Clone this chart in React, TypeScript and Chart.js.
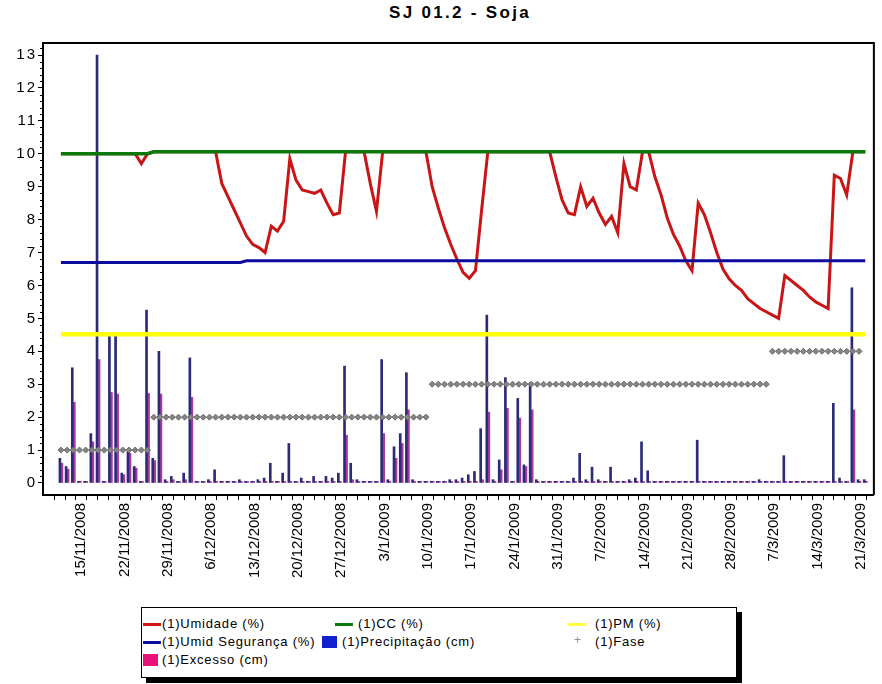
import React, { useEffect, useRef } from "react";
import { Chart, registerables } from "chart.js";

Chart.register(...registerables);

// Day numbering: day 0 = 15/11/2008. First sample is 12/11/2008.
const FIRST_DAY = -3;

// (1)Umidade (%) – one value per day
const umidade = [
  10, 10, 10, 10, 10, 10, 10, 10, 10, 10, 10, 10, 10, // -3..9
  9.7, 10, // 10..11
  10.06, 10.06, 10.06, 10.06, 10.06, 10.06, 10.06, 10.06, 10.06, 10.06, 10.06, // 12..22
  9.1, 8.7, 8.3, 7.9, 7.5, 7.25, 7.15, 7.0, 7.8, 7.65, 7.95, 9.85, 9.2, 8.9, 8.85, 8.8, 8.9, 8.5, 8.15, 8.2, // 23..42
  10.06, 10.06, 10.06, 10.06, // 43..46
  9.1, 8.25, // 47..48
  10.06, 10.06, 10.06, 10.06, 10.06, 10.06, 10.06, 10.06, // 49..56
  9.0, 8.35, 7.75, 7.25, 6.8, 6.4, 6.22, 6.45, 8.3, // 57..65
  10.06, 10.06, 10.06, 10.06, 10.06, 10.06, 10.06, 10.06, 10.06, 10.06, 10.06, // 66..76
  9.3, 8.6, 8.2, 8.15, 9.0, 8.4, 8.65, 8.2, 7.85, 8.1, 7.6, 9.7, 9.0, 8.9, // 77..90
  10.06, 10.06, // 91..92
  9.3, 8.75, 8.05, 7.55, 7.2, 6.75, 6.45, 8.5, 8.15, 7.6, 7.0, 6.5, 6.2, 6.0, 5.85, 5.6, // 93..108
  5.45, 5.3, 5.2, 5.1, 5.0, 6.3, 6.15, 6.0, 5.85, 5.65, 5.5, 5.4, 5.3, 9.35, 9.25, 8.75, // 109..124
  10.06, 10.06, 10.06, // 125..127
];

// (1)Precipitação (cm) – one value per day
const precipitacao = [
  0.75, 0.5, 3.5, 0.05, 0.05, 1.5, 13.0, 0.05, 4.5, 4.5, 0.3, 0.95, 0.5, 0.05, // -3..10
  5.25, 0.75, 4.0, 0.1, 0.2, 0.05, 0.3, 3.8, 0.05, 0.05, 0.1, 0.4, // 11..22
  0.05, 0.05, 0.05, 0.1, 0.05, 0.05, 0.1, 0.15, 0.6, 0.05, 0.3, 1.2, // 23..34
  0.05, 0.15, 0.05, 0.2, 0.05, 0.2, 0.15, 0.3, 3.55, 0.6, 0.1, 0.05, // 35..46
  0.05, 0.05, 3.75, 0.1, 1.1, 1.5, 3.35, 0.1, 0.05, 0.05, 0.05, 0.05, // 47..58
  0.05, 0.1, 0.1, 0.15, 0.25, 0.35, 1.65, 5.1, 0.1, 0.7, 3.2, 0.05, // 59..70
  2.57, 0.55, 3.05, 0.1, 0.05, 0.05, 0.05, 0.05, 0.05, 0.15, 0.9, 0.1, // 71..82
  0.48, 0.1, 0.05, 0.48, 0.05, 0.05, 0.1, 0.15, 1.25, 0.37, 0.05, 0.05, // 83..94
  0.05, 0.05, 0.05, 0.05, 0.05, 1.3, 0.05, 0.05, 0.05, 0.05, 0.05, 0.05, // 95..106
  0.05, 0.05, 0.05, 0.1, 0.05, 0.05, 0.05, 0.83, 0.05, 0.05, 0.05, 0.05, // 107..118
  0.05, 0.05, 0.05, 2.42, 0.15, 0.05, 5.93, 0.1, 0.1, // 119..127
];

// (1)Excesso (cm) – one value per day
const excesso = [
  0.6, 0.42, 2.45, 0.05, 0.05, 1.25, 3.75, 0.05, 2.75, 2.7, 0.25, 0.9, 0.45, 0.05, // -3..10
  2.72, 0.68, 2.7, 0.05, 0.1, 0.05, 0.1, 2.6, 0.05, 0.05, 0.05, 0.05, // 11..22
  0.05, 0.05, 0.05, 0.05, 0.05, 0.05, 0.05, 0.05, 0.05, 0.05, 0.05, 0.05, // 23..34
  0.05, 0.05, 0.05, 0.05, 0.05, 0.05, 0.05, 0.05, 1.45, 0.1, 0.05, 0.05, // 35..46
  0.05, 0.05, 1.5, 0.05, 0.75, 1.2, 2.22, 0.05, 0.05, 0.05, 0.05, 0.05, // 47..58
  0.05, 0.05, 0.05, 0.05, 0.05, 0.05, 0.1, 2.15, 0.05, 0.4, 2.27, 0.05, // 59..70
  1.97, 0.5, 2.22, 0.05, 0.05, 0.05, 0.05, 0.05, 0.05, 0.05, 0.05, 0.05, // 71..82
  0.05, 0.05, 0.05, 0.05, 0.05, 0.05, 0.05, 0.05, 0.05, 0.05, 0.05, 0.05, // 83..94
  0.05, 0.05, 0.05, 0.05, 0.05, 0.05, 0.05, 0.05, 0.05, 0.05, 0.05, 0.05, // 95..106
  0.05, 0.05, 0.05, 0.05, 0.05, 0.05, 0.05, 0.05, 0.05, 0.05, 0.05, 0.05, // 107..118
  0.05, 0.05, 0.05, 0.05, 0.05, 0.05, 2.22, 0.05, 0.05, // 119..127
];

// Reference levels (day, value) break points
const ccDays = [-3, 11, 12, 127];
const ccValues = [10.0, 10.0, 10.06, 10.06];
const segDays = [-3, 26, 27, 127];
const segValues = [6.7, 6.7, 6.75, 6.75];
const pmDays = [-3, 127];
const pmValues = [4.52, 4.52];

// Crop phases: first day, last day, phase number
const faseStart = [-3, 12, 57, 112];
const faseEnd = [11, 56, 111, 126];
const faseValues = [1, 2, 3, 4];

const weekLabels = [
  "15/11/2008", "22/11/2008", "29/11/2008", "6/12/2008", "13/12/2008", "20/12/2008",
  "27/12/2008", "3/1/2009", "10/1/2009", "17/1/2009", "24/1/2009", "31/1/2009",
  "7/2/2009", "14/2/2009", "21/2/2009", "28/2/2009", "7/3/2009", "14/3/2009", "21/3/2009",
];
const yTicks = [0, 1, 2, 3, 4, 5, 6, 7, 8, 9, 10, 11, 12, 13];

const FONT = "'Liberation Sans', Arial, sans-serif";
const TICK_OFFSET = 0.3; // week marks sit slightly right of the daily samples
const MINOR_STEP = 1.75; // four tick marks per week

const days = umidade.map((_, i) => FIRST_DAY + i);
const toPoints = (vals: number[]) => vals.map((y, i) => ({ x: days[i], y }));
const pairPoints = (xs: number[], ys: number[]) => xs.map((x, i) => ({ x, y: ys[i] }));

const fasePoints: { x: number; y: number }[] = [];
faseStart.forEach((s, p) => {
  for (let d = s; d <= faseEnd[p]; d++) fasePoints.push({ x: d, y: faseValues[p] });
});

const xTickValues: number[] = [];
for (let k = -2; k <= weekLabels.length * 4 - 4; k++) xTickValues.push(TICK_OFFSET + k * MINOR_STEP);

const framePlugin = {
  id: "frame",
  afterDatasetsDraw(chart: any) {
    chart.ctx.letterSpacing = "2px";
  },
  afterDraw(chart: any) {
    const { ctx, chartArea } = chart;
    ctx.letterSpacing = "0px";
    const y = chart.scales.y;
    ctx.save();
    ctx.strokeStyle = "#000";
    ctx.lineWidth = 2;
    ctx.beginPath();
    ctx.moveTo(chartArea.left, chartArea.top);
    ctx.lineTo(chartArea.right, chartArea.top);
    ctx.lineTo(chartArea.right, chartArea.bottom);
    ctx.stroke();
    // minor ticks on the value axis
    ctx.lineWidth = 1;
    ctx.beginPath();
    for (let v = 0.2; v < 13.3; v += 0.2) {
      if (Math.abs(v - Math.round(v)) < 0.01) continue;
      const py = Math.round(y.getPixelForValue(v)) + 0.5;
      ctx.moveTo(chartArea.left - 3, py);
      ctx.lineTo(chartArea.left, py);
    }
    ctx.stroke();
    ctx.restore();
  },
};

function ChartCanvas() {
  const ref = useRef<HTMLCanvasElement | null>(null);
  useEffect(() => {
    if (!ref.current) return;
    const line = (label: string, data: any[], color: string, width: number, order: number) => ({
      type: "line" as const,
      label,
      data,
      borderColor: color,
      backgroundColor: color,
      borderWidth: width,
      pointRadius: 0,
      tension: 0,
      order,
    });
    const chart = new Chart(ref.current, {
      type: "bar",
      data: {
        datasets: [
          line("(1)CC (%)", pairPoints(ccDays, ccValues), "#0a780a", 3.5, 1),
          line("(1)Umid Segurança (%)", pairPoints(segDays, segValues), "#0a0a9c", 3, 2),
          line("(1)PM (%)", pairPoints(pmDays, pmValues), "#ffff10", 4.5, 3),
          line("(1)Umidade (%)", toPoints(umidade), "#c81616", 3, 4),
          {
            type: "line",
            label: "(1)Fase",
            data: fasePoints,
            showLine: false,
            pointStyle: "rectRot",
            pointRadius: 3,
            backgroundColor: "#858585",
            borderColor: "#6a6a6a",
            borderWidth: 1,
            order: 5,
          },
          {
            type: "bar",
            label: "(1)Precipitação (cm)",
            data: toPoints(precipitacao),
            backgroundColor: "#2b2b78",
            barThickness: 2,
            order: 6,
          },
          {
            type: "bar",
            label: "(1)Excesso (cm)",
            data: toPoints(excesso),
            backgroundColor: "#a83a9e",
            barThickness: 2,
            order: 7,
          },
        ] as any,
      },
      options: {
        animation: false,
        responsive: false,
        maintainAspectRatio: false,
        layout: { padding: { top: 43, right: 5, left: 0, bottom: 0 } },
        plugins: { legend: { display: false }, title: { display: false }, tooltip: { enabled: false } },
        scales: {
          x: {
            type: "linear",
            min: -5,
            max: 127.5,
            afterBuildTicks: (s: any) => {
              s.ticks = xTickValues.map((v) => ({ value: v }));
            },
            afterFit: (s: any) => {
              s.height = 105;
            },
            ticks: {
              autoSkip: false,
              minRotation: 90,
              maxRotation: 90,
              padding: 3,
              color: "#000",
              font: { family: FONT, size: 15 },
              callback: (_v: any, i: number) => {
                const k = i - 2;
                return k >= 0 && k % 4 === 0 ? weekLabels[k / 4] : "";
              },
            },
            grid: { drawOnChartArea: false, tickLength: 5, color: "#000" },
            border: { color: "#000", width: 2 },
          },
          y: {
            type: "linear",
            min: -0.365,
            max: 13.365,
            afterBuildTicks: (s: any) => {
              s.ticks = yTicks.map((v) => ({ value: v }));
            },
            afterFit: (s: any) => {
              s.width = 43;
            },
            ticks: { padding: 1, color: "#000", font: { family: FONT, size: 15 }, z: 1 },
            grid: { drawOnChartArea: false, tickLength: 5, color: "#000" },
            border: { color: "#000", width: 2 },
          },
        },
      } as any,
      plugins: [framePlugin],
    });
    return () => chart.destroy();
  }, []);
  return <canvas ref={ref} width={882} height={600} style={{ position: "absolute", left: 0, top: 0 }} />;
}

type LegendItem = { label: string; color: string; kind: "line" | "box" | "star"; x: number; y: number; tx: number };

const legendItems: LegendItem[] = [
  { label: "(1)Umidade (%)", color: "#d01818", kind: "line", x: 143, y: 624, tx: 162 },
  { label: "(1)CC (%)", color: "#0a780a", kind: "line", x: 335, y: 624, tx: 358 },
  { label: "(1)PM (%)", color: "#ffff40", kind: "line", x: 568, y: 624, tx: 595 },
  { label: "(1)Umid Segurança (%)", color: "#0a0a9c", kind: "line", x: 143, y: 642, tx: 162 },
  { label: "(1)Precipitação (cm)", color: "#1020d0", kind: "box", x: 322, y: 642, tx: 342 },
  { label: "(1)Fase", color: "#909090", kind: "star", x: 574, y: 642, tx: 595 },
  { label: "(1)Excesso (cm)", color: "#e8107a", kind: "box", x: 143, y: 660, tx: 162 },
];

function Legend() {
  return (
    <>
      <div
        style={{
          position: "absolute",
          left: 141,
          top: 607,
          width: 594,
          height: 69,
          border: "1px solid #000",
          boxShadow: "5px 5px 0 #000",
          background: "#fff",
        }}
      />
      {legendItems.map((it) => (
        <React.Fragment key={it.label}>
          {it.kind === "line" && (
            <div style={{ position: "absolute", left: it.x, top: it.y - 1, width: 18, height: 2.5, background: it.color }} />
          )}
          {it.kind === "box" && (
            <div style={{ position: "absolute", left: it.x, top: it.y - 6, width: 15, height: 12, background: it.color }} />
          )}
          {it.kind === "star" && (
            <div style={{ position: "absolute", left: it.x, top: it.y - 9, fontSize: 12, color: it.color, fontFamily: FONT }}>
              +
            </div>
          )}
          <div
            style={{
              position: "absolute",
              left: it.tx,
              top: it.y - 9,
              fontFamily: FONT,
              fontSize: 13,
              letterSpacing: "0.8px",
              lineHeight: "18px",
              color: "#000",
              whiteSpace: "nowrap",
            }}
          >
            {it.label}
          </div>
        </React.Fragment>
      ))}
    </>
  );
}

export default function App() {
  return (
    <div style={{ position: "fixed", left: 0, top: 0, width: 882, height: 684, background: "#fff", overflow: "hidden" }}>
      <div
        style={{
          position: "absolute",
          left: 0,
          top: 3,
          width: 920,
          textAlign: "center",
          fontFamily: FONT,
          fontWeight: "bold",
          fontSize: 17,
          letterSpacing: "2.3px",
          color: "#000",
        }}
      >
        SJ 01.2 - Soja
      </div>
      <ChartCanvas />
      <Legend />
    </div>
  );
}
